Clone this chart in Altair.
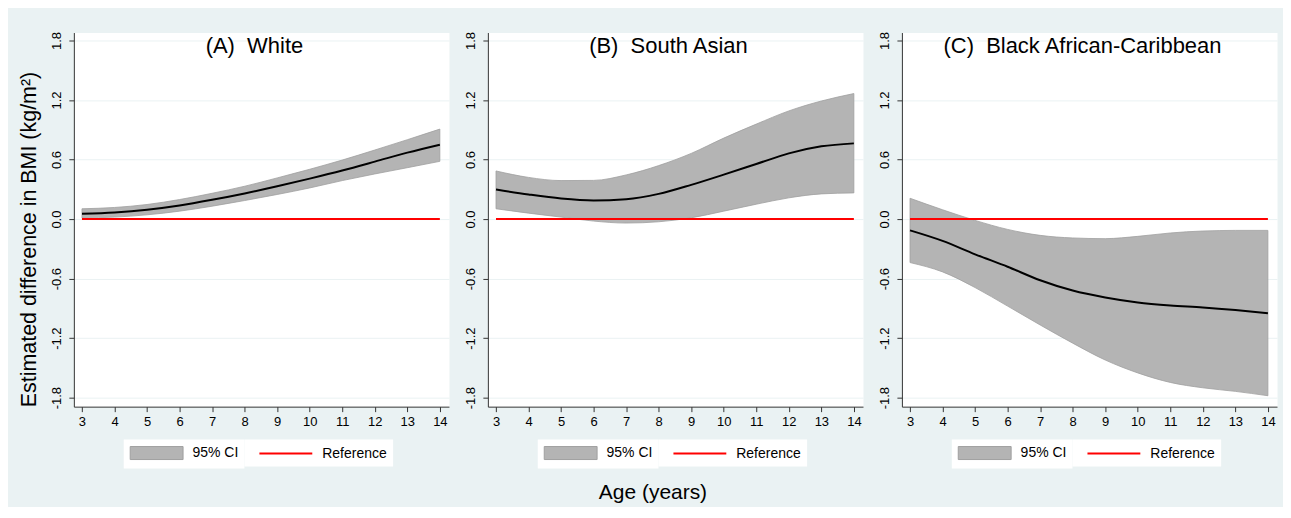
import altair as alt
import pandas as pd

ages = [3, 4, 5, 6, 7, 8, 9, 10, 11, 12, 13, 14]

white_est = [0.054, 0.067, 0.094, 0.137, 0.194, 0.258, 0.330, 0.408, 0.490, 0.579, 0.670, 0.750]
white_hi = [0.104, 0.117, 0.147, 0.197, 0.260, 0.331, 0.415, 0.502, 0.595, 0.696, 0.800, 0.907]
white_lo = [0.010, 0.020, 0.043, 0.080, 0.130, 0.187, 0.248, 0.314, 0.388, 0.455, 0.518, 0.582]

sa_est = [0.298, 0.248, 0.207, 0.187, 0.200, 0.254, 0.345, 0.448, 0.555, 0.662, 0.733, 0.763]
sa_hi = [0.485, 0.420, 0.388, 0.390, 0.445, 0.539, 0.662, 0.816, 0.957, 1.090, 1.190, 1.265]
sa_lo = [0.104, 0.060, 0.020, -0.020, -0.040, -0.027, 0.013, 0.080, 0.150, 0.214, 0.254, 0.264]

bac_est = [-0.114, -0.220, -0.355, -0.480, -0.616, -0.720, -0.790, -0.840, -0.870, -0.890, -0.917, -0.950]
bac_hi = [0.210, 0.094, -0.013, -0.104, -0.164, -0.190, -0.197, -0.174, -0.140, -0.120, -0.114, -0.114]
bac_lo = [-0.438, -0.532, -0.690, -0.877, -1.067, -1.250, -1.420, -1.550, -1.646, -1.700, -1.736, -1.780]

ref_x = [3, 14]
ref_y = [0.0, 0.0]

panel_titles = ["(A)\u00a0 White", "(B)\u00a0 South Asian", "(C)\u00a0 Black African-Caribbean"]
ci_label = "95% CI"
ref_label = "Reference"
y_ticks = [-1.8, -1.2, -0.6, 0.0, 0.6, 1.2, 1.8]
x_ticks = ages

FONT = "Liberation Sans"
BG = "#eaf2f3"

ci_legend = alt.Legend(
    orient="none", legendX=50, legendY=408,
    direction="horizontal", title=None, fillColor="white", padding=6,
    symbolSize=196, symbolType="M-1,-0.93H6.57V0.93H-1Z",
    symbolStrokeColor="#a0a0a0", symbolStrokeWidth=1,
    labelFontSize=14, labelFont=FONT, labelColor="#000000", labelOffset=48,
)
ref_legend = alt.Legend(
    orient="none", legendX=171, legendY=408,
    direction="horizontal", title=None, fillColor="white", padding=6,
    symbolSize=196, symbolType="M0.143,0H7.714", symbolStrokeWidth=2,
    symbolFillColor="transparent",
    labelFontSize=14, labelFont=FONT, labelColor="#000000", labelOffset=56,
)


def panel(title, est, lo, hi, show_ytitle):
    df = pd.DataFrame({"age": ages, "est": est, "lo": lo, "hi": hi, "key": ci_label})
    ref = pd.DataFrame({"age": ref_x, "y": ref_y, "key": ref_label})
    tdf = pd.DataFrame({"t": [title]})

    x = alt.X(
        "age:Q",
        scale=alt.Scale(domain=[2.75, 14.28], nice=False, zero=False),
        axis=alt.Axis(
            values=x_ticks, format="d", grid=False, title=None, labelOverlap=False,
            labelFont=FONT, labelFontSize=13, labelColor="#000000", labelPadding=4,
            tickSize=5, tickColor="#333333", domainColor="#333333",
        ),
    )
    yscale = alt.Scale(domain=[-1.89, 1.88], nice=False, zero=False)
    yaxis = alt.Axis(
        values=y_ticks, labelOverlap=False,
        labelExpr="datum.value < 0 ? '-' + format(-datum.value, '.1f') : format(datum.value, '.1f')",
        labelAngle=270, labelAlign="center", labelBaseline="bottom",
        labelFont=FONT, labelFontSize=13, labelColor="#000000", labelPadding=5,
        tickSize=5, tickColor="#333333", domainColor="#333333",
        grid=True, gridColor=BG, gridWidth=1,
        title="Estimated difference in BMI (kg/m\u00b2)" if show_ytitle else None,
        titleFont=FONT, titleFontSize=21.5, titleFontWeight="normal", titleColor="#000000",
        titlePadding=10, titleY=207,
    )

    band = alt.Chart(df).mark_area(
        interpolate="monotone", stroke="#a0a0a0", strokeWidth=0.8, opacity=1
    ).encode(
        x=x,
        y=alt.Y("hi:Q", scale=yscale, axis=yaxis),
        y2="lo:Q",
        fill=alt.Fill("key:N", scale=alt.Scale(domain=[ci_label], range=["#b4b4b4"]), legend=ci_legend),
    )
    refline = alt.Chart(ref).mark_line(strokeWidth=2).encode(
        x=x,
        y=alt.Y("y:Q", scale=yscale, axis=yaxis),
        stroke=alt.Stroke("key:N", scale=alt.Scale(domain=[ref_label], range=["#ff0000"]), legend=ref_legend),
    )
    fit = alt.Chart(df).mark_line(color="black", strokeWidth=2, interpolate="monotone").encode(
        x=x,
        y=alt.Y("est:Q", scale=yscale, axis=yaxis),
    )
    label = alt.Chart(tdf).mark_text(
        font=FONT, fontSize=22, color="#000000", align="center", baseline="alphabetic"
    ).encode(
        text="t:N",
        x=alt.value(181),
        y=alt.value(21),
    )
    return alt.layer(band, refline, fit, label).properties(width=376, height=375)


pa = panel(panel_titles[0], white_est, white_lo, white_hi, True)
pb = panel(panel_titles[1], sa_est, sa_lo, sa_hi, False)
pc = panel(panel_titles[2], bac_est, bac_lo, bac_hi, False)

chart = alt.hconcat(pa, pb, pc, spacing=39, bounds="flush").resolve_legend(
    fill="independent", stroke="independent"
).resolve_scale(
    fill="independent", stroke="independent"
).properties(
    title=alt.Title(
        text="Age (years)", orient="bottom", anchor="middle", font=FONT, fontSize=21,
        fontWeight="normal", color="#000000", offset=13, dx=5,
    ),
    padding={"left": 10, "top": 22, "right": 5, "bottom": 3},
    background=BG,
).configure_view(
    fill="white", stroke="transparent"
).configure_axis(
    labelOverlap=False
)

chart.save("out.html", embed_options={"renderer": "svg", "actions": False})
